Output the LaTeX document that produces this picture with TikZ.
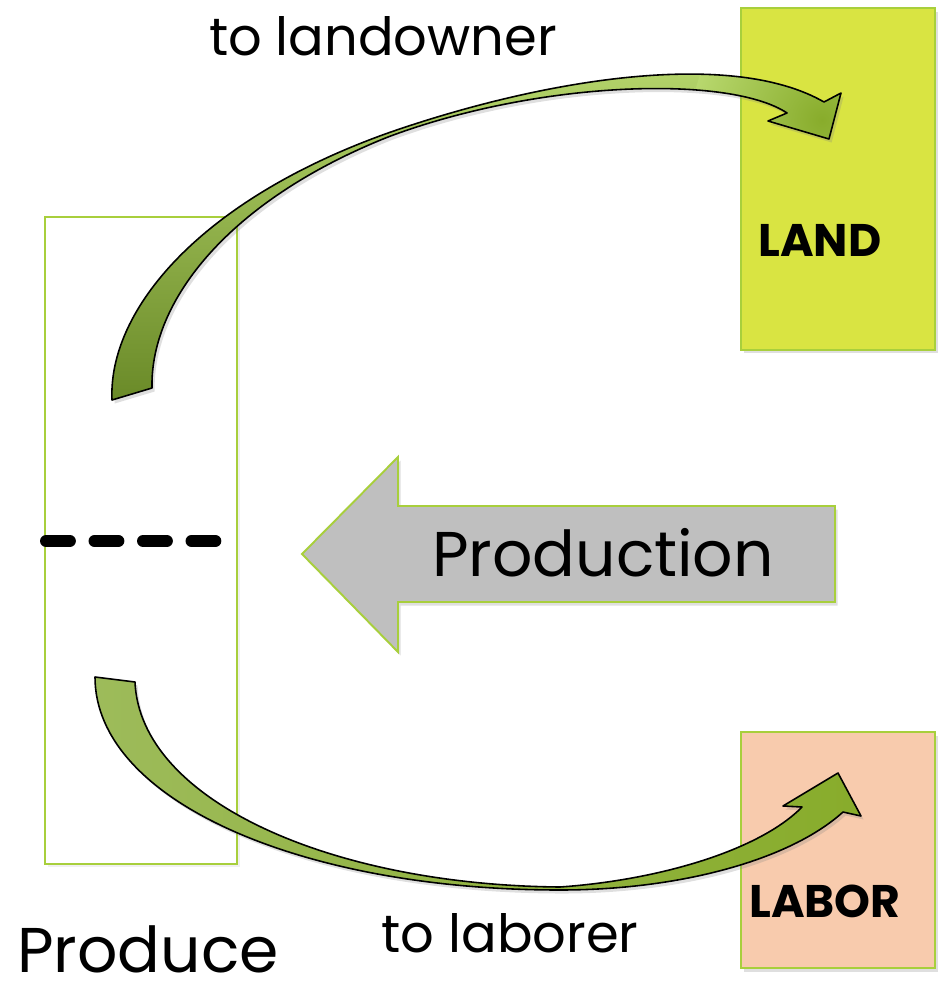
\documentclass[tikz,border=0pt]{standalone}
\usepackage{fontspec}
\setmainfont{Poppins}
\usetikzlibrary{shadows}

\definecolor{boxedge}{HTML}{A8CF3C}
\definecolor{landfill}{HTML}{D9E442}
\definecolor{laborfill}{HTML}{F8CBAD}
\definecolor{prodgray}{HTML}{BFBFBF}
\definecolor{leafdark}{HTML}{6A8A28}
\definecolor{leaflight}{HTML}{B8D86E}
\definecolor{leafmid}{HTML}{88AC2B}
\definecolor{leafsoft}{HTML}{9DBB5A}

\tikzset{
  softshadow/.style={drop shadow={opacity=0.25,shadow xshift=1.5pt,shadow yshift=-2pt}},
  box/.style={draw=boxedge,line width=1.1pt,inner sep=0pt,minimum width=3.88cm},
  boxlabel/.style={font=\bfseries\fontsize{26}{28}\selectfont,inner sep=0pt},
  bigtext/.style={font=\fontsize{36}{40}\selectfont,inner sep=0pt},
  midtext/.style={font=\fontsize{30}{32}\selectfont,inner sep=0pt},
  leafarrow/.style={draw=black,line width=0.9pt,line join=round,softshadow}
}

\begin{document}
\begin{tikzpicture}[x=0.02cm,y=-0.02cm]
    \useasboundingbox (0,0) rectangle (948,987);

    % Produce
    \node[box,minimum width=3.84cm,minimum height=12.94cm,
          drop shadow={opacity=0.12,shadow xshift=1.5pt,shadow yshift=-2pt},fill=white] (produce) at (141,540.5) {};
    \node[bigtext,anchor=base] (producetext) at (148,972) {Produce};
    \draw[line width=6.8pt,line cap=round,dash pattern=on 13.6pt off 14pt] (46,541) -- (216,541);

    % Land
    \node[box,fill=landfill,minimum height=6.84cm,softshadow] (land) at (838,179) {};
    \node[boxlabel,anchor=west] (landtext) at (758,240) {LAND};

    % Labor
    \node[box,fill=laborfill,minimum height=4.72cm,softshadow] (labor) at (838,850) {};
    \node[boxlabel,anchor=west] (labortext) at (749,901) {LABOR};

    % Production
    \draw[draw=boxedge,line width=1.1pt,fill=prodgray,softshadow]
        (302,554) -- (398,457) -- (398,506) -- (835,506) -- (835,602)
        -- (398,602) -- (398,652) -- cycle;
    \node[bigtext] (prodtext) at (603,553) {Production};

    % to landowner
    \path[leafarrow,fill=leafmid,
          path picture={
            \shade[top color=leaflight,bottom color=leafdark]
                (path picture bounding box.north west) rectangle (path picture bounding box.south east);
            \shade[inner color=leafmid,outer color=leaflight] (822,120) circle (130);}]
        (112,400) .. controls (108,310) and (200,200) .. (388,133)
        .. controls (540,80) and (730,48) .. (824,102)
        -- (841,93) -- (829,139) -- (768,121) -- (787,113)
        .. controls (730,75) and (540,80) .. (388,137)
        .. controls (230,200) and (150,300) .. (152,388) -- cycle;
    \node[midtext,anchor=base] (owner) at (383,55) {to landowner};

    % to laborer
    \path[leafarrow,left color=leafsoft,right color=leafmid]
        (95,677) .. controls (95,800) and (300,890) .. (560,890)
        .. controls (680,890) and (790,860) .. (843,812)
        -- (861,816) -- (838,773) -- (783,806) -- (802,807)
        .. controls (760,850) and (660,880) .. (560,887)
        .. controls (330,885) and (140,800) .. (135,682) -- cycle;
    \node[midtext,anchor=base] (worker) at (510,952) {to laborer};
\end{tikzpicture}
\end{document}
